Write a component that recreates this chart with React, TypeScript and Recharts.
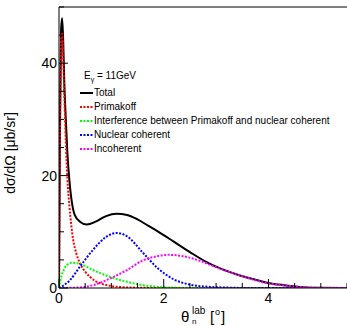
import { Legend, Line, LineChart, ReferenceLine, XAxis, YAxis } from "recharts"

// angles (deg) and cross sections (ub/sr)
const totalTheta = [0, 0.02, 0.04, 0.06, 0.08, 0.1, 0.13, 0.16, 0.2, 0.25, 0.3, 0.4, 0.53, 0.7, 0.9, 1.1, 1.3, 1.5, 1.7, 1.9, 2.2, 2.5, 2.8, 3.1, 3.4, 3.7, 4.0, 4.3, 4.6, 5.0, 5.5]
const totalValues = [0, 30, 46, 48, 44, 37, 30, 24, 19, 15, 13, 11.8, 11.3, 11.8, 12.8, 13.2, 13.0, 12.2, 11.1, 10.0, 8.2, 6.4, 4.7, 3.4, 2.4, 1.6, 0.9, 0.5, 0.2, 0.03, 0]

const primakoffTheta = [0, 0.02, 0.04, 0.06, 0.08, 0.1, 0.13, 0.16, 0.2, 0.27, 0.33, 0.4, 0.5, 0.6, 0.7, 0.8, 1.0, 1.2, 1.5, 2.0, 5.5]
const primakoffValues = [0, 28, 44, 45.4, 41, 35, 26, 19.5, 14.5, 8.6, 6.2, 4.4, 2.9, 1.9, 1.2, 0.8, 0.35, 0.15, 0.05, 0, 0]

const interfTheta = [0, 0.05, 0.1, 0.15, 0.25, 0.35, 0.5, 0.65, 0.8, 1.0, 1.3, 1.6, 1.9, 2.3, 2.8, 5.5]
const interfValues = [0, 2.2, 3.4, 4.1, 4.5, 4.4, 3.9, 3.2, 2.6, 1.9, 1.1, 0.5, 0.2, 0.05, 0, 0]

const coherentTheta = [0, 0.2, 0.4, 0.65, 0.9, 1.1, 1.3, 1.6, 1.9, 2.2, 2.5, 2.8, 3.2, 3.6, 5.5]
const coherentValues = [0, 1.3, 3.8, 6.8, 9.1, 9.8, 9.2, 6.3, 3.4, 1.5, 0.6, 0.25, 0.08, 0, 0]

const incoherentTheta = [0, 0.4, 0.65, 1.0, 1.3, 1.6, 1.9, 2.1, 2.4, 2.7, 3.0, 3.3, 3.6, 3.9, 4.2, 4.5, 4.8, 5.1, 5.5]
const incoherentValues = [0, 0.1, 0.5, 1.8, 3.2, 4.9, 5.7, 5.9, 5.6, 4.8, 3.7, 2.7, 1.8, 1.0, 0.55, 0.25, 0.08, 0, 0]

const xTicks = [0, 0.5, 1, 1.5, 2, 2.5, 3, 3.5, 4, 4.5, 5, 5.5]
const yTicks = [0, 5, 10, 15, 20, 25, 30, 35, 40, 45, 50]

const FONT = "Liberation Sans, Arial, sans-serif"

const toPoints = (xs: number[], ys: number[]) => xs.map((x, i) => ({ x, y: ys[i] }))

const series = [
  { name: "Total", color: "#000000", dash: undefined, data: toPoints(totalTheta, totalValues) },
  { name: "Primakoff", color: "#ff0000", dash: "2 1.5", data: toPoints(primakoffTheta, primakoffValues) },
  { name: "Interference between Primakoff and nuclear coherent", color: "#00ff00", dash: "2 1.5", data: toPoints(interfTheta, interfValues) },
  { name: "Nuclear coherent", color: "#0000ff", dash: "2 1.5", data: toPoints(coherentTheta, coherentValues) },
  { name: "Incoherent", color: "#ff00ff", dash: "2 1.5", data: toPoints(incoherentTheta, incoherentValues) },
]

function XTick({ x, y, payload }: any) {
  const v = payload.value
  const major = v % 2 === 0
  return (
    <g>
      <line x1={x} x2={x} y1={y} y2={y - (major ? 9 : 5)} stroke="#000" />
      {major && (
        <text x={x} y={y + 15} textAnchor="middle" fontSize={14} fontFamily={FONT} fill="#000">
          {v}
        </text>
      )}
    </g>
  )
}

function YTick({ x, y, payload }: any) {
  const v = payload.value
  const major = v % 20 === 0
  return (
    <g>
      <line x1={x} x2={x + (major ? 9 : 5)} y1={y} y2={y} stroke="#000" />
      {major && (
        <text x={x - 2} y={y + 5} textAnchor="end" fontSize={14} fontFamily={FONT} fill="#000">
          {v}
        </text>
      )}
    </g>
  )
}

function LegendBox() {
  return (
    <div style={{ fontFamily: FONT, fontSize: 10, color: "#000", lineHeight: "14px" }}>
      <div style={{ height: 14, paddingLeft: 4, marginBottom: 3, whiteSpace: "nowrap" }}>
        E<sub style={{ fontSize: 7 }}>γ</sub> = 11GeV
      </div>
      {series.map((s) => (
        <div key={s.name} style={{ height: 14, display: "flex", alignItems: "center", whiteSpace: "nowrap" }}>
          <svg width={13} height={4} style={{ marginRight: 1 }}>
            <line x1={0} x2={13} y1={2} y2={2} stroke={s.color} strokeWidth={2} strokeDasharray={s.dash} />
          </svg>
          {s.name}
        </div>
      ))}
    </div>
  )
}

export default function App() {
  return (
    <div style={{ position: "absolute", left: 0, top: 0, background: "#fff" }}>
      <LineChart width={347} height={326} margin={{ top: 7, right: 0, bottom: 0, left: 0 }}>
        <XAxis
          type="number"
          dataKey="x"
          domain={[0, 5.5]}
          ticks={xTicks}
          interval={0}
          allowDataOverflow
          height={38}
          tickSize={0}
          tickMargin={0}
          tick={<XTick />}
          axisLine={{ stroke: "#000" }}
          label={{
            content: () => (
              <g fontFamily={FONT} fill="#000">
                <text x={181} y={322} fontSize={15}>θ</text>
                <text x={192} y={314} fontSize={10}>lab</text>
                <text x={192} y={324} fontSize={8}>n</text>
                <text x={210} y={322} fontSize={15}>[</text>
                <text x={215} y={315} fontSize={9}>o</text>
                <text x={221} y={322} fontSize={15}>]</text>
              </g>
            ),
          }}
        />
        <YAxis
          type="number"
          dataKey="y"
          domain={[0, 50]}
          ticks={yTicks}
          interval={0}
          allowDataOverflow
          width={59}
          tickSize={0}
          tickMargin={0}
          tick={<YTick />}
          axisLine={{ stroke: "#000" }}
          label={{
            content: () => (
              <text
                x={15}
                y={153}
                transform="rotate(-90 15 153)"
                textAnchor="middle"
                fontSize={14}
                fontFamily={FONT}
                fill="#000"
              >
                dσ/dΩ [μb/sr]
              </text>
            ),
          }}
        />
        <ReferenceLine y={50} stroke="#000" />
        {series.map((s) => (
          <Line
            key={s.name}
            data={s.data}
            dataKey="y"
            name={s.name}
            type="monotone"
            stroke={s.color}
            strokeWidth={2}
            strokeDasharray={s.dash}
            dot={false}
            isAnimationActive={false}
          />
        ))}
        <Legend
          layout="vertical"
          align="center"
          verticalAlign="middle"
          content={() => <LegendBox />}
          wrapperStyle={{ position: "absolute", left: 80, top: 69, width: 265 }}
        />
      </LineChart>
    </div>
  )
}
